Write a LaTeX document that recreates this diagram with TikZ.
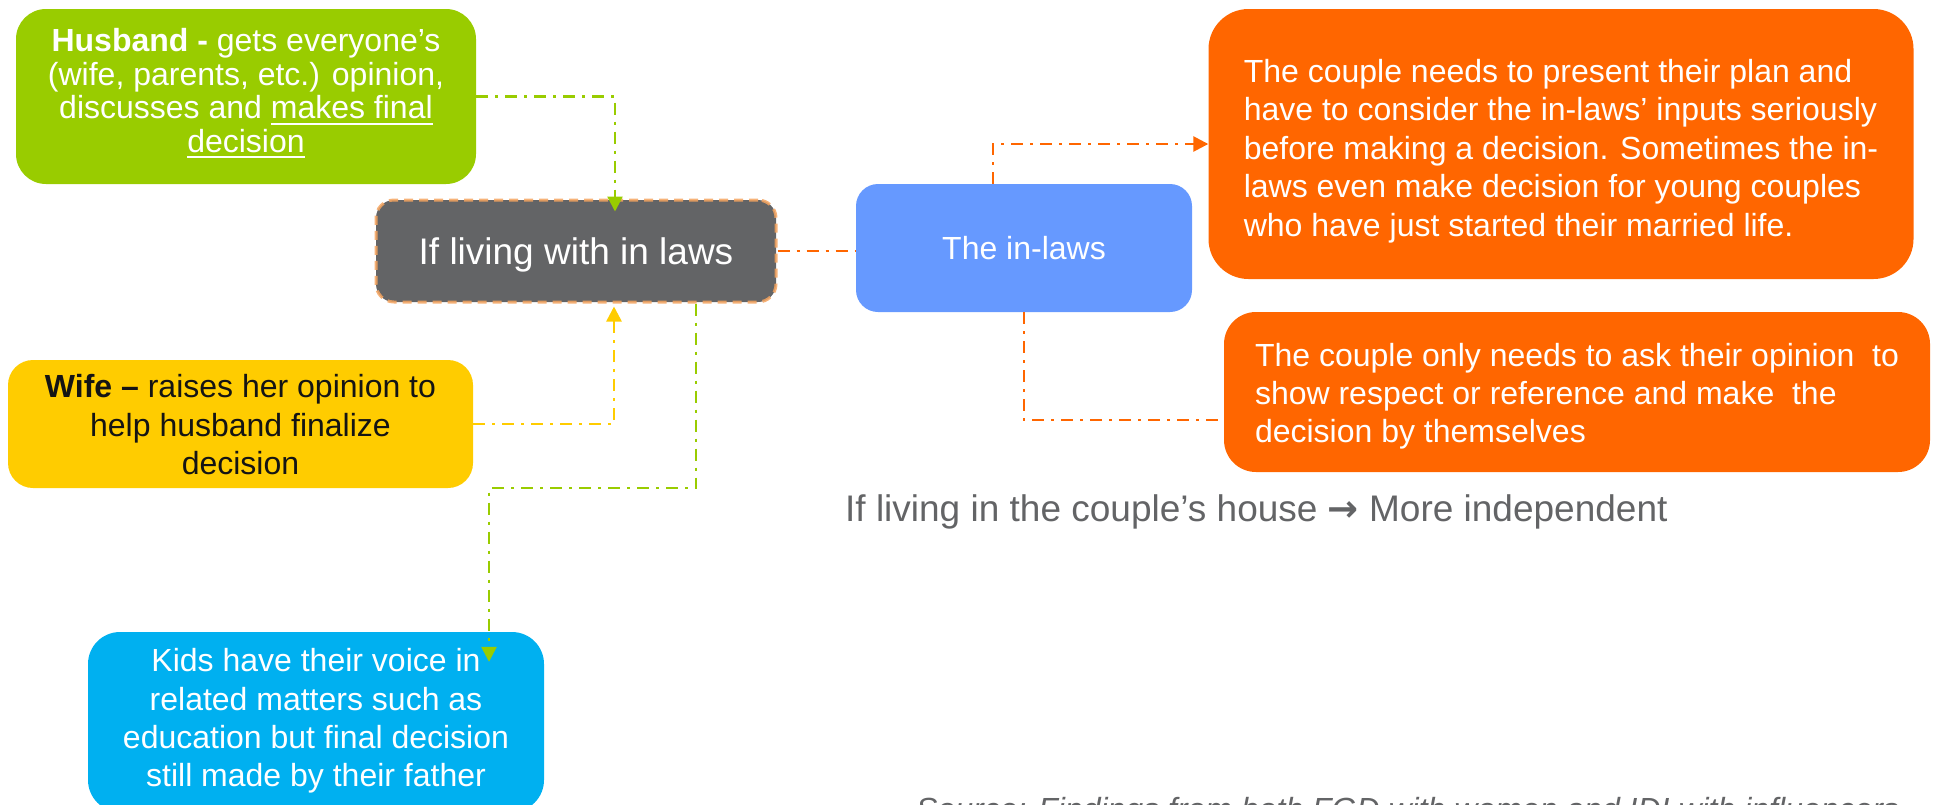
\documentclass[tikz,border=0pt]{standalone}
\usepackage{fontspec}
\setmainfont{Liberation Sans}
\newfontfamily\arrowfont{DejaVu Sans}
\usetikzlibrary{arrows.meta,calc}

\definecolor{leafgreen}{HTML}{99CC00}
\definecolor{sunyellow}{HTML}{FFCC00}
\definecolor{skyblue}{HTML}{00B0F0}
\definecolor{slategray}{HTML}{636466}
\definecolor{softblue}{HTML}{6699FF}
\definecolor{flameorange}{HTML}{FF6600}
\definecolor{peach}{RGB}{244,164,96}
\definecolor{inkdark}{RGB}{20,20,20}

% underline with a fixed rule under the words
\newcommand\undl[1]{\leavevmode\vtop{\hbox{#1}\kern4pt\hrule height 2pt}}

\begin{document}
\begin{tikzpicture}[x=1pt,y=-1pt,
  panel/.style={rounded corners=#1, inner sep=0pt},
  words/.style={inner sep=0pt, text=white, font=\fontsize{32}{#1}\selectfont},
  link/.style={line width=2.6pt, dash pattern=on 12pt off 7pt on 3pt off 7pt},
  arrowed/.style={-{Triangle[width=15pt,length=15pt]}}
]
\clip (0,0) rectangle (1937,804);

% roles inside the household
\node[panel=30, fill=leafgreen, minimum width=460pt, minimum height=175pt] (husband) at (246,96.5) {};
\node[words=33.4, align=center] (husbandtext) at (246,93.5)
  {\textbf{Husband -} gets everyone’s\\(wife, parents, etc.) opinion,\\discusses and \undl{makes final}\\\undl{decision}};

\node[panel=25, fill=sunyellow, minimum width=465pt, minimum height=128pt] (wife) at (240.5,424) {};
\node[words=38.5, align=center, text=inkdark] (wifetext) at (240.5,425)
  {\textbf{Wife –} raises her opinion to\\help husband finalize\\decision};

\node[panel=32, fill=skyblue, minimum width=456pt, minimum height=180pt] (kids) at (316,722) {};
\node[words=38.3, align=center] (kidstext) at (316,721)
  {Kids have their voice in\\related matters such as\\education but final decision\\still made by their father};

% central situation
\node[panel=18, fill=slategray, draw=peach, draw opacity=0.85, line width=3pt,
      dash pattern=on 9pt off 6pt, minimum width=400pt, minimum height=102pt] (gray) at (576,251) {};
\node[inner sep=0pt, text=white, font=\fontsize{37}{40}\selectfont] (graytext) at (576,255) {If living with in laws};

\node[panel=22, fill=softblue, minimum width=336pt, minimum height=128pt] (blue) at (1024,248) {};
\node[words=38] (bluetext) at (1024,248) {The in-laws};

% outcomes
\node[panel=40, fill=flameorange, minimum width=705pt, minimum height=270pt] (ans1) at (1561,144) {};
\node[words=38.5, align=left] (ans1text) at (1561,151)
  {The couple needs to present their plan and\\have to consider the in-laws’ inputs seriously\\before making a decision. Sometimes the in-\\laws even make decision for young couples\\who have just started their married life.};

\node[panel=32, fill=flameorange, minimum width=706pt, minimum height=160pt] (ans2) at (1577,392) {};
\node[words=38, align=left] (ans2text) at (1577,396)
  {The couple only needs to ask their opinion\ \ to\\show respect or reference and make\ \ the\\decision by themselves};

\node[anchor=base west, inner sep=0pt, text=slategray,
      font=\fontsize{37}{40}\selectfont] (note) at (845,521)
  {If living in the couple’s house {\arrowfont\bfseries →} More independent};

\node[anchor=base west, inner sep=0pt, text=slategray,
      font=\fontsize{32}{36}\selectfont\itshape] (source) at (916,820)
  {Source: Findings from both FGD with women and IDI with influencers};

% connectors
\coordinate (kbend) at (489,488);
\draw[link, leafgreen, arrowed] (husband.east) -| ($(gray.north)+(39,13)$);
\draw[link, sunyellow, arrowed] (wife.east) -| ($(gray.south)+(38,3)$);
\draw[link, leafgreen, arrowed] ($(gray.south)+(120,0)$) |- (kbend) -- ($(kids.north)+(173,30)$);
\draw[link, flameorange] (gray.east) -- (gray.east -| blue.west);
\draw[link, flameorange, arrowed] ($(blue.north)+(-31,0)$) |- (ans1.west);
\draw[link, flameorange] (blue.south) |- ($(ans2.west)+(0,28)$);
\end{tikzpicture}
\end{document}
